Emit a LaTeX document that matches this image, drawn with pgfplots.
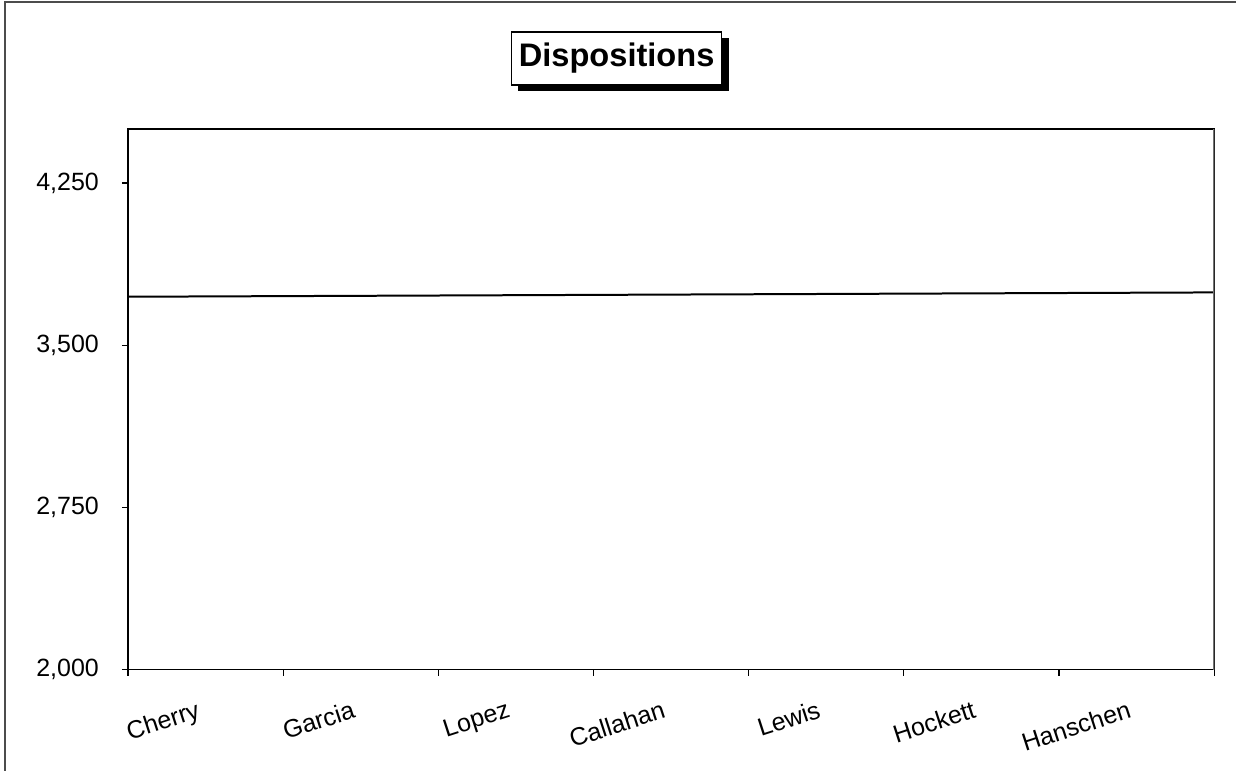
\documentclass[border=0pt]{standalone}
\usepackage{pgfplots}
\pgfplotsset{compat=1.18}
\usepackage{fontspec}
\setmainfont{Liberation Sans}
\begin{document}
\begin{tikzpicture}[x=1pt,y=1pt]
\path (0,0) rectangle (618.5,385.5);
\draw[line width=0.75pt, black!70] (2.5,0) -- (2.5,384.5) -- (618.5,384.5);
\begin{axis}[
  at={(64pt,50.5pt)}, anchor=south west,
  scale only axis, width=543.5pt, height=270.5pt,
  xmin=-0.5, xmax=6.5, ymin=2000, ymax=4500,
  axis line style={line width=0.75pt, black},
  xtick={0,...,6},
  xticklabels={Cherry,Garcia,Lopez,Callahan,Lewis,Hockett,Hanschen},
  minor xtick={-0.5,0.5,...,6.5},
  major x tick style={draw=none},
  minor tick length=3pt,
  ytick={2000,2750,3500,4250},
  major tick length=3pt,
  tick align=outside,
  tick style={black, line width=0.6pt},
  xtick pos=bottom, ytick pos=left,
  font=\fontsize{12.5}{14}\selectfont,
  xticklabel style={rotate=18, anchor=north east, yshift=-6.5pt, xshift=-5pt},
  yticklabel style={xshift=-8pt},
  /pgf/number format/.cd, 1000 sep={,}, assume math mode=true,
]
\addplot[black, line width=1pt] coordinates {(-0.5,3724) (6.5,3744)};
\draw[black!55, line width=0.8pt] (rel axis cs:1,0) -- (rel axis cs:1,1);
\end{axis}
\fill[black] (259,340) rectangle (364.5,366.5);
\node[draw=black, line width=0.6pt, fill=white, minimum width=105pt, minimum height=26.5pt, inner sep=0pt, font=\bfseries\fontsize{16.3}{18}\selectfont] at (308.5,356.25) {Dispositions};
\end{tikzpicture}
\end{document}
